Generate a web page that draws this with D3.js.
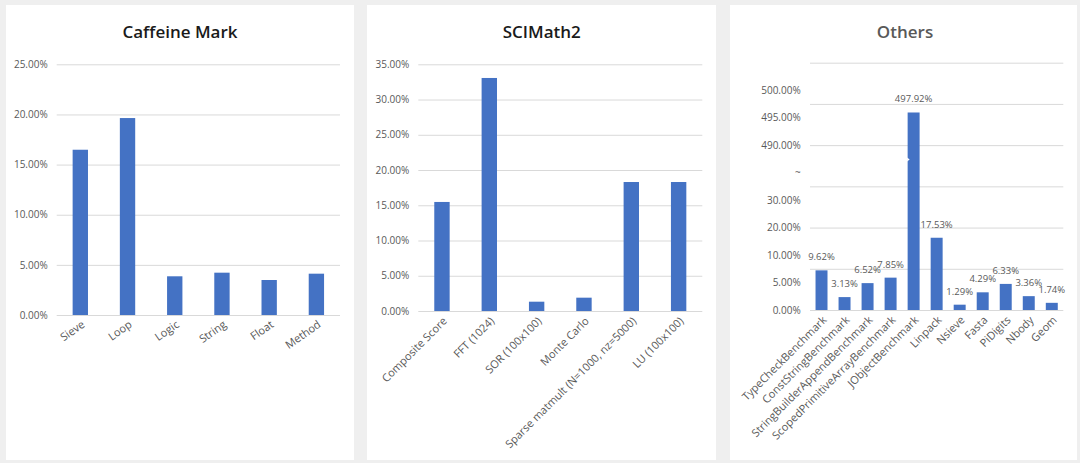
<!DOCTYPE html>
<html><head><meta charset="utf-8">
<script src="https://cdn.jsdelivr.net/npm/d3@7"></script>
<style>
html,body{margin:0;padding:0;background:#efefef;}
svg{display:block;}
text{font-family:"Open Sans","Noto Sans",sans-serif;}
</style></head>
<body>
<svg id="chart" width="1080" height="463"></svg>
<script>
// ---- data ----
const caffeineCategories = ["Sieve","Loop","Logic","String","Float","Method"];
const caffeineValues = [16.48, 19.64, 3.86, 4.22, 3.49, 4.12];
const caffeineTicks = [0,5,10,15,20,25];

const scimathCategories = ["Composite Score","FFT (1024)","SOR (100x100)","Monte Carlo","Sparse matmult (N=1000, nz=5000)","LU (100x100)"];
const scimathValues = [15.47, 33.06, 1.32, 1.89, 18.3, 18.3];
const scimathTicks = [0,5,10,15,20,25,30,35];

const othersCategories = ["TypeCheckBenchmark","ConstStringBenchmark","StringBuilderAppendBenchmark","ScopedPrimitiveArrayBenchmark","JObjectBenchmark","Linpack","Nsieve","Fasta","PiDigits","Nbody","Geom"];
const othersValues = [9.62, 3.13, 6.52, 7.85, 497.92, 17.53, 1.29, 4.29, 6.33, 3.36, 1.74];
const othersTickLabels = ["0.00%","5.00%","10.00%","20.00%","30.00%","~","490.00%","495.00%","500.00%"];
const othersGrid = [0,10,20,30,40,50,60];   // plotted (broken) scale gridlines
const othersBreak = {low: 40, high: 490};  // axis break

const BAR = "#4472c4", GRID = "#d9d9d9", TXT = "#595959";
const svg = d3.select("#chart");
const fmt = v => v.toFixed(2) + "%";

function panel(x0, x1){
  svg.append("rect").attr("x", x0).attr("y", 5).attr("width", x1 - x0).attr("height", 455).attr("fill", "#ffffff");
}
function title(cx, t, color){
  svg.append("text").attr("x", cx).attr("y", 38).attr("text-anchor", "middle")
    .attr("font-size", 17).attr("font-weight", 600).attr("fill", color).text(t);
}
function gridAxis(g, y, ticks, x0, x1, labelFmt){
  const ax = d3.axisLeft(y).tickValues(ticks).tickSize(-(x1 - x0)).tickPadding(9).tickFormat(labelFmt);
  const a = g.append("g").attr("transform", `translate(${x0},0)`).call(ax);
  a.select(".domain").remove();
  a.selectAll("line").attr("stroke", GRID).attr("stroke-width", 1);
  a.selectAll("text").attr("fill", TXT).attr("font-size", 10);
  return a;
}
function xLabels(g, x, cats, y0, angle){
  g.selectAll("text.xl").data(cats).enter().append("text").attr("class", "xl")
    .attr("transform", d => `translate(${x(d) + x.bandwidth()/2 + 3},${y0 + 8}) rotate(${angle})`)
    .attr("text-anchor", "end").attr("dy", "0.35em")
    .attr("font-size", 11).attr("fill", TXT).text(d => d);
}

// ---- Panel 1: Caffeine Mark ----
panel(6, 354);
title(180, "Caffeine Mark", "#1a1a1a");
{
  const g = svg.append("g");
  const x = d3.scaleBand().domain(caffeineCategories).range([56.7, 340]).paddingInner(0.675).paddingOuter(0.3375);
  const y = d3.scaleLinear().domain([0, 25]).range([315, 64.3]);
  gridAxis(g, y, caffeineTicks, 56.7, 340, d => d.toFixed(2) + "%");
  g.selectAll("rect.bar").data(caffeineValues).enter().append("rect").attr("class", "bar")
    .attr("x", (d, i) => x(caffeineCategories[i])).attr("width", x.bandwidth())
    .attr("y", d => y(d)).attr("height", d => y(0) - y(d)).attr("fill", BAR);
  xLabels(g, x, caffeineCategories, y(0), -35);
}

// ---- Panel 2: SCIMath2 ----
panel(367, 716);
title(541.7, "SCIMath2", "#1a1a1a");
{
  const g = svg.append("g");
  const x = d3.scaleBand().domain(scimathCategories).range([418.3, 702.3]).paddingInner(0.675).paddingOuter(0.3375);
  const y = d3.scaleLinear().domain([0, 35]).range([311, 64.3]);
  gridAxis(g, y, scimathTicks, 418.3, 702.3, d => d.toFixed(2) + "%");
  g.selectAll("rect.bar").data(scimathValues).enter().append("rect").attr("class", "bar")
    .attr("x", (d, i) => x(scimathCategories[i])).attr("width", x.bandwidth())
    .attr("y", d => y(d)).attr("height", d => y(0) - y(d)).attr("fill", BAR);
  xLabels(g, x, scimathCategories, y(0), -45);
}

// ---- Panel 3: Others (broken axis) ----
panel(730, 1077);
title(905, "Others", TXT);
{
  const g = svg.append("g");
  const X0 = 810, X1 = 1063.3;
  const x = d3.scaleBand().domain(othersCategories).range([X0, X1]).paddingInner(0.48).paddingOuter(0.24);
  const yPlot = d3.scaleLinear().domain([0, 60]).range([310, 62.7]);
  const yData = d3.scaleLinear()
    .domain([0, othersBreak.low, othersBreak.high, othersBreak.high + 20])
    .range([yPlot(0), yPlot(othersBreak.low), yPlot(othersBreak.low), yPlot(60)]);
  // gridlines
  const ga = g.append("g").attr("transform", `translate(${X0},0)`)
    .call(d3.axisLeft(yPlot).tickValues(othersGrid).tickSize(-(X1 - X0)).tickFormat(""));
  ga.select(".domain").remove();
  ga.selectAll("line").attr("stroke", GRID);
  // typed tick labels (evenly spaced)
  const yLab = d3.scalePoint().domain(othersTickLabels).range([310, 90]);
  const la = g.append("g").attr("transform", `translate(${X0 - 9.3},0)`)
    .call(d3.axisLeft(yLab).tickSize(0).tickPadding(0));
  la.select(".domain").remove();
  la.selectAll("text").attr("fill", TXT).attr("font-size", 10);
  // bars
  g.selectAll("rect.bar").data(othersValues).enter().append("rect").attr("class", "bar")
    .attr("x", (d, i) => x(othersCategories[i])).attr("width", x.bandwidth())
    .attr("y", d => yData(d)).attr("height", d => yData(0) - yData(d)).attr("fill", BAR);
  // break notch on the broken bar
  othersValues.forEach((d, i) => {
    if (d > othersBreak.high) {
      const bx = x(othersCategories[i]);
      const ny = yPlot(othersBreak.low - 3.5);
      g.append("path")
        .attr("d", `M${bx - 0.5},${ny - 2} L${bx + 2},${ny} L${bx - 0.5},${ny + 2} Z`)
        .attr("fill", "#ffffff");
    }
  });
  // data labels
  g.selectAll("text.dl").data(othersValues).enter().append("text").attr("class", "dl")
    .attr("x", (d, i) => x(othersCategories[i]) + x.bandwidth()/2)
    .attr("y", d => yData(d) - 10).attr("text-anchor", "middle")
    .attr("font-size", 9.5).attr("fill", TXT).text(fmt);
  xLabels(g, x, othersCategories, yPlot(0), -45);
}
</script>
</body></html>
